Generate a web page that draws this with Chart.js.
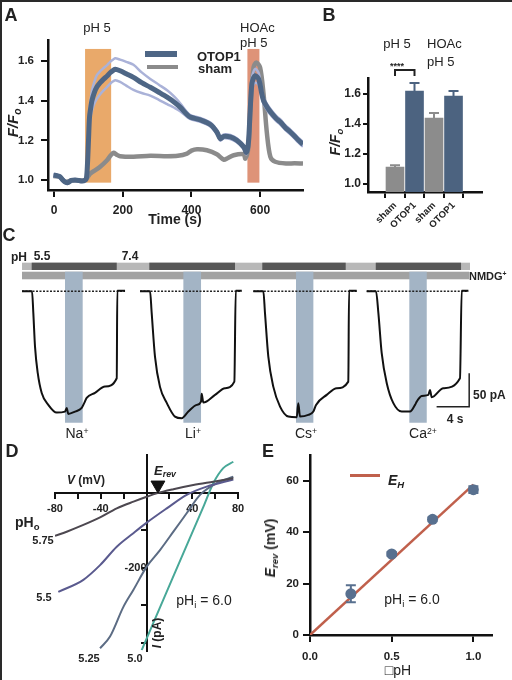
<!DOCTYPE html>
<html><head><meta charset="utf-8">
<script src="https://cdn.jsdelivr.net/npm/chart.js@4.4.1/dist/chart.umd.min.js"></script>
<style>
html,body{margin:0;padding:0;background:#fff;}
#fig{position:relative;width:512px;height:680px;overflow:hidden;font-family:'Liberation Sans',Arial,sans-serif;color:#222;background:#fff;}
#fig canvas{position:absolute;z-index:1;}
.t,.l{position:absolute;white-space:nowrap;line-height:1;z-index:2;}
.t{transform:translate(-50%,-50%);}
.l{transform:translate(0,-50%);}
.rot{transform:translate(-50%,-50%) rotate(-90deg);}
.b{font-weight:bold;}
.i{font-style:italic;}
sub{font-size:0.68em;vertical-align:-0.3em;line-height:0;}
sup{font-size:0.62em;vertical-align:0.5em;line-height:0;}
.frame{position:absolute;background:#2a2a2a;z-index:3;}
.sw{position:absolute;z-index:2;}
</style>
</head><body>
<div id="fig">
  <div class="frame" style="left:0;top:0;width:512px;height:2px"></div>
  <div class="frame" style="left:0;top:0;width:2px;height:680px"></div>

  <!-- Panel A -->
  <div class="t b" style="left:11px;top:15px;font-size:18px">A</div>
  <div class="t" style="left:97px;top:27px;font-size:13px">pH 5</div>
  <div class="l" style="left:240px;top:27px;font-size:13px">HOAc</div>
  <div class="l" style="left:240px;top:42px;font-size:13px">pH 5</div>
  <div class="sw" style="left:145px;top:51px;width:32px;height:6px;background:#4e6685"></div>
  <div class="sw" style="left:147px;top:65px;width:31px;height:4px;background:#8b8b8b"></div>
  <div class="l b" style="left:197px;top:56px;font-size:13px">OTOP1</div>
  <div class="l b" style="left:198px;top:68px;font-size:13px">sham</div>
  <div class="t rot b i" style="left:12px;top:123px;font-size:15px">F/F<sub>o</sub></div>
  <div class="t b" style="left:175px;top:219px;font-size:14px">Time (s)</div>

  <!-- Panel B -->
  <div class="t b" style="left:329px;top:15px;font-size:18px">B</div>
  <div class="t" style="left:397px;top:43px;font-size:13px">pH 5</div>
  <div class="l" style="left:427px;top:43px;font-size:13px">HOAc</div>
  <div class="l" style="left:427px;top:61px;font-size:13px">pH 5</div>
  <div class="t b" style="left:397px;top:66px;font-size:9px">****</div>
  <div class="t rot b i" style="left:335px;top:142px;font-size:14px">F/F<sub>o</sub></div>

  <!-- Panel C -->
  <div class="t b" style="left:9px;top:235px;font-size:18px">C</div>
  <div class="t b" style="left:19px;top:257px;font-size:12px">pH</div>
  <div class="t b" style="left:42px;top:256px;font-size:12px">5.5</div>
  <div class="t b" style="left:130px;top:256px;font-size:12px">7.4</div>
  <div class="l b" style="left:469px;top:276px;font-size:11px">NMDG<sup>+</sup></div>
  <div class="t" style="left:77px;top:433px;font-size:14px">Na<sup>+</sup></div>
  <div class="t" style="left:193px;top:433px;font-size:14px">Li<sup>+</sup></div>
  <div class="t" style="left:306px;top:433px;font-size:14px">Cs<sup>+</sup></div>
  <div class="t" style="left:423px;top:433px;font-size:14px">Ca<sup>2+</sup></div>
  <div class="l b" style="left:473px;top:395px;font-size:12px">50 pA</div>
  <div class="t b" style="left:455px;top:419px;font-size:12px">4 s</div>

  <!-- Panel D -->
  <div class="t b" style="left:12px;top:451px;font-size:18px">D</div>
  <div class="t b" style="left:86px;top:480px;font-size:12px"><span class="i">V</span> (mV)</div>
  <div class="l b" style="left:15px;top:522px;font-size:14px">pH<sub>o</sub></div>
  <div class="t b" style="left:43px;top:540px;font-size:11px">5.75</div>
  <div class="t b" style="left:44px;top:597px;font-size:11px">5.5</div>
  <div class="t b" style="left:89px;top:658px;font-size:11px">5.25</div>
  <div class="t b" style="left:135px;top:658px;font-size:11px">5.0</div>
  <div class="t b i" style="left:165px;top:470px;font-size:13px">E<sub>rev</sub></div>
  <div class="t" style="left:204px;top:600px;font-size:14px">pH<sub>i</sub> = 6.0</div>
  <div class="t rot b" style="left:157px;top:633px;font-size:12px"><span class="i">I</span> (pA)</div>

  <!-- Panel E -->
  <div class="t b" style="left:268px;top:451px;font-size:18px">E</div>
  <div class="sw" style="left:350px;top:474px;width:30px;height:3px;background:#c0604c"></div>
  <div class="l b i" style="left:388px;top:480px;font-size:14px">E<sub>H</sub></div>
  <div class="t rot b" style="left:270px;top:548px;font-size:14px"><span class="i">E<sub>rev</sub></span> (mV)</div>
  <div class="t" style="left:398px;top:670px;font-size:14px">&#9633;pH</div>
  <div class="t" style="left:412px;top:599px;font-size:14px">pH<sub>i</sub> = 6.0</div>
</div>

<script>
// ---------------- DATA ----------------
// Panel A : F/Fo time courses
const timeOtop = [-2,8,17,25,32,40,50,61,72,81,90,94,97,100,103,107,110,117,124,134,144,155,163,172,178,192,210,231,255,280,305,329,350,367,387,397,426,455,474,484,494,513,532,552,560,566,571,576,581,586,591,596,600,605,610,615,625,635,647,659,673,688,700,712,725];
const otopMean = [1.025,1.022,1.017,1.000,0.990,0.987,0.998,1.000,0.998,0.995,1.000,1.010,1.080,1.200,1.317,1.370,1.400,1.440,1.467,1.490,1.508,1.525,1.540,1.552,1.558,1.550,1.535,1.517,1.490,1.467,1.442,1.417,1.392,1.367,1.330,1.317,1.303,1.280,1.242,1.208,1.220,1.217,1.200,1.167,1.140,1.190,1.350,1.483,1.515,1.525,1.520,1.508,1.480,1.433,1.400,1.383,1.355,1.333,1.310,1.292,1.265,1.242,1.222,1.200,1.180];
const otopSem  = [0.006,0.006,0.006,0.006,0.006,0.006,0.005,0.005,0.005,0.005,0.005,0.008,0.015,0.025,0.035,0.045,0.050,0.055,0.060,0.058,0.056,0.055,0.055,0.055,0.055,0.056,0.060,0.063,0.052,0.042,0.038,0.035,0.028,0.020,0.012,0.010,0.010,0.010,0.010,0.010,0.010,0.010,0.010,0.010,0.010,0.015,0.025,0.030,0.032,0.035,0.033,0.030,0.025,0.020,0.018,0.016,0.015,0.014,0.013,0.013,0.012,0.012,0.012,0.012,0.012];
const timeSham = [-2,17,32,50,72,90,105,120,134,154,165,173,182,192,231,280,329,360,387,400,416,445,474,494,505,523,552,557,566,573,581,589,600,610,620,630,644,678,700,725];
const shamMean = [1.020,1.015,0.992,0.998,0.998,1.000,1.033,1.050,1.067,1.100,1.125,1.137,1.128,1.120,1.117,1.122,1.120,1.122,1.133,1.148,1.155,1.150,1.130,1.103,1.110,1.125,1.130,1.108,1.167,1.400,1.567,1.592,1.567,1.433,1.233,1.117,1.092,1.083,1.085,1.083];
const stimStartA = [90, 563];
const stimEndA   = [166, 598];
const stimColorA = ['#e9a96a', '#de9378'];
const xTicksA = [0, 200, 400, 600];
const yTicksA = [1.0, 1.2, 1.4, 1.6];

// Panel B : peak F/Fo
const catsB  = ['sham', 'OTOP1', 'sham', 'OTOP1'];
const valsB  = [1.113, 1.620, 1.440, 1.587];
const errB   = [0.012, 0.053, 0.033, 0.033];
const colorsB = ['#8c8c8c', '#4c6380', '#8c8c8c', '#4c6380'];
const yTicksB = [1.0, 1.2, 1.4, 1.6];

// Panel C : current traces (time s, current pA)
const naT = [0,1.23,1.39,1.60,1.93,2.42,3.23,4.26,5.28,5.49,5.68,6.51,7.33,7.65,7.94,8.96,10.19,11.63,11.70,12.65];
const naI = [0,0,-31.7,-81.4,-119.4,-148.7,-166.2,-177.5,-176.0,-170.6,-179.4,-176.0,-170.6,-163.3,-156.0,-148.7,-139.5,-127.2,0.5,0.5];
const liT = [14.49,15.72,15.92,16.33,16.94,17.77,18.78,19.61,20.42,21.45,21.98,22.06,22.26,23.70,24.92,26.07,26.24,26.98];
const liI = [0,0,-31.7,-96.1,-139.9,-163.3,-183.3,-185.7,-176.0,-166.2,-161.4,-150.1,-162.9,-151.6,-141.8,-132.2,0.5,0.5];
const csT = [28.40,29.63,29.83,30.24,30.85,31.68,32.70,33.73,33.92,34.13,35.15,35.77,36.10,37.41,38.64,40.06,40.15,41.09];
const csI = [0,0,-31.7,-95.6,-139.5,-168.7,-183.3,-184.2,-163.7,-183.3,-180.8,-176.0,-166.2,-151.6,-141.8,-132.2,0.5,0.5];
const caT = [42.32,43.46,43.75,44.16,44.78,45.59,46.62,47.64,48.25,48.46,49.07,49.88,50.09,50.30,51.73,53.77,53.98,54.80];
const caI = [0,0,-31.7,-90.6,-134.5,-163.7,-176.0,-176.0,-166.2,-161.4,-153.1,-151.6,-144.3,-155.0,-141.8,-127.2,0.5,0.5];
const baseStartC = [0, 14.49, 28.40, 42.32];
const baseEndC   = [12.65, 26.98, 41.09, 54.80];
const ionStartC  = [5.28, 19.81, 33.64, 47.55];
const ionEndC    = [7.45, 21.98, 35.77, 49.69];
const acidStartC = [1.19, 15.63, 29.50, 43.43];   // pH 5.5 segments
const acidEndC   = [11.63, 26.15, 39.74, 53.90];
const scaleBarT = [50.9, 54.9, 54.9];
const scaleBarI = [-169, -169, -120];

// Panel D : I-V curves (mV, pA)
const v575 = [-80,-69.8,-55.2,-40.6,-26,-11.4,0.2,8.9,23.5,40.9,58.4,75.9];
const i575 = [-115,-104,-86,-66,-42,-24,-11,-2,9,20,29,38];
const v55  = [-77.1,-55.2,-40.6,-26,-11.5,0.2,17.7,35.1,52.6,75.9];
const i55  = [-264,-232,-193,-144,-108,-80,-42,-6,16,35];
const v525 = [-40.6,-31.9,-20.2,-11.5,0.2,11.8,23.5,35.1,46.8,61.4,75.9];
const i525 = [-414,-383,-304,-259,-197,-153,-104,-55,-6,25,42];
const v50  = [-4.2,22.7,49.7,58.4,67.1,75.9];
const i50  = [-419,-228,-38,25,65,82];
const erevMarkV = [10];
const erevMarkI = [20];
const xTicksD = [-80,-60,-40,-20,0,20,40,60,80];
const xLabelsD = [-80,-40,40,80];
const yTicksD = [-400,-300,-200,-100,0];
const yLabelsD = [-200];

// Panel E : Erev vs dpH
const dpH  = [0.25, 0.5, 0.75, 1.0];
const erev = [16, 31.5, 45, 56.5];
const erevErr = [3.3, 0.8, 0.8, 1.3];
const ehX = [0, 1.0];
const ehY = [0, 58.5];
const xTicksE = [0, 0.5, 1.0];
const yTicksE = [0, 20, 40, 60];

// ---------------- HELPERS ----------------
Chart.defaults.font.family = "'Liberation Sans', Arial, sans-serif";
Chart.defaults.color = '#222';
const fig = document.getElementById('fig');
const pts = (xs, ys) => xs.map((x, i) => ({x: x, y: ys[i]}));

function mk(left, top, w, h, cfg) {
  const c = document.createElement('canvas');
  c.width = w; c.height = h;
  c.style.left = left + 'px'; c.style.top = top + 'px';
  c.style.width = w + 'px'; c.style.height = h + 'px';
  fig.insertBefore(c, fig.firstChild);
  cfg.options = Object.assign({responsive: false, animation: false, devicePixelRatio: 1, events: []}, cfg.options);
  cfg.options.plugins = Object.assign({legend: {display: false}, tooltip: {enabled: false}}, cfg.options.plugins || {});
  return new Chart(c, cfg);
}

function axis(o) {
  return {
    type: 'linear', min: o.min, max: o.max, position: o.position,
    afterBuildTicks: s => { s.ticks = o.ticks.map(v => ({value: v})); },
    afterFit: s => { if (o.isX) s.height = o.size; else s.width = o.size; },
    border: {display: true, color: '#111', width: o.bw || 2.5},
    grid: {drawOnChartArea: false, drawTicks: true, tickLength: o.tl || 6, color: '#111', lineWidth: o.tw || 2},
    ticks: {autoSkip: false, maxRotation: o.rot || 0, minRotation: o.rot || 0, padding: o.pad,
      color: '#222', font: {size: o.fs || 11, weight: 'bold'}, callback: v => o.fmt(v)}
  };
}

function rectPlugin(items) {
  return {
    id: 'rects',
    beforeDatasetsDraw(chart) {
      const xs = chart.scales.x, ys = chart.scales.y, ctx = chart.ctx;
      ctx.save();
      items.forEach(r => {
        const x0 = xs.getPixelForValue(r.x0), x1 = xs.getPixelForValue(r.x1);
        const y0 = ys.getPixelForValue(r.y0), y1 = ys.getPixelForValue(r.y1);
        ctx.fillStyle = r.color;
        ctx.fillRect(Math.min(x0, x1), Math.min(y0, y1), Math.abs(x1 - x0), Math.abs(y1 - y0));
      });
      ctx.restore();
    }
  };
}

function errPlugin(items) {
  return {
    id: 'errbars',
    afterDatasetsDraw(chart) {
      const xs = chart.scales.x, ys = chart.scales.y, ctx = chart.ctx;
      ctx.save();
      items.forEach(e => {
        const px = xs.getPixelForValue(e.x), lo = ys.getPixelForValue(e.lo), hi = ys.getPixelForValue(e.hi);
        ctx.strokeStyle = e.color; ctx.lineWidth = 2;
        ctx.beginPath();
        ctx.moveTo(px, lo); ctx.lineTo(px, hi);
        ctx.moveTo(px - e.cap, hi); ctx.lineTo(px + e.cap, hi);
        if (e.both) { ctx.moveTo(px - e.cap, lo); ctx.lineTo(px + e.cap, lo); }
        ctx.stroke();
      });
      ctx.restore();
    }
  };
}

function bracketPlugin(b) {
  return {
    id: 'bracket',
    afterDatasetsDraw(chart) {
      const xs = chart.scales.x, ys = chart.scales.y, ctx = chart.ctx;
      const x0 = xs.getPixelForValue(b.x0), x1 = xs.getPixelForValue(b.x1);
      const yt = ys.getPixelForValue(b.y), yb = ys.getPixelForValue(b.y - b.drop);
      ctx.save();
      ctx.strokeStyle = '#222'; ctx.lineWidth = 2;
      ctx.beginPath();
      ctx.moveTo(x0, yb); ctx.lineTo(x0, yt); ctx.lineTo(x1, yt); ctx.lineTo(x1, yb);
      ctx.stroke();
      ctx.restore();
    }
  };
}

// ---------------- PANEL A ----------------
const otopUpper = otopMean.map((v, i) => v + otopSem[i]);
const otopLower = otopMean.map((v, i) => v - otopSem[i]);
mk(0, 0, 320, 230, {
  type: 'line',
  data: {datasets: [
    {data: pts(timeOtop, otopMean), borderColor: '#4e6685', borderWidth: 5, pointRadius: 0, tension: 0.3},
    {data: pts(timeOtop, otopUpper), borderColor: '#aab2d8', borderWidth: 2.5, pointRadius: 0, tension: 0.3},
    {data: pts(timeOtop, otopLower), borderColor: '#aab2d8', borderWidth: 2.5, pointRadius: 0, tension: 0.3},
    {data: pts(timeSham, shamMean), borderColor: '#8b8b8b', borderWidth: 4.5, pointRadius: 0, tension: 0.3}
  ]},
  options: {
    layout: {padding: {left: 0, right: 17, top: 40, bottom: 0}},
    scales: {
      x: axis({min: -18, max: 725, ticks: xTicksA, fmt: v => String(v), isX: true, size: 40, pad: 6, tl: 7, fs: 12}),
      y: axis({min: 0.95, max: 1.705, ticks: yTicksA, fmt: v => v.toFixed(1), isX: false, size: 48, pad: 7, tl: 7, fs: 11.5})
    }
  },
  plugins: [rectPlugin(stimStartA.map((s, i) => ({x0: s, x1: stimEndA[i], y0: 0.987, y1: 1.66, color: stimColorA[i]})))]
});

// ---------------- PANEL B ----------------
mk(300, 0, 212, 230, {
  type: 'bar',
  data: {datasets: [{
    data: pts(catsB.map((c, i) => i), valsB),
    backgroundColor: colorsB, barThickness: 18, borderWidth: 0
  }]},
  options: {
    layout: {padding: {left: 0, right: 30, top: 78, bottom: 0}},
    scales: {
      x: axis({min: -0.654, max: 3.73, ticks: [0, 1, 2, 3], fmt: v => catsB[v], isX: true, size: 38, pad: 2, tl: 6, fs: 9.5, rot: 45}),
      y: axis({min: 0.947, max: 1.707, ticks: yTicksB, fmt: v => v.toFixed(1), isX: false, size: 68, pad: 2, tl: 5, fs: 12})
    }
  },
  plugins: [
    errPlugin(valsB.map((v, i) => ({x: i, lo: v, hi: v + errB[i], cap: 5, color: colorsB[i]}))),
    bracketPlugin({x0: 0, x1: 1, y: 1.76, drop: 0.04})
  ]
});

// ---------------- PANEL C ----------------
const traceStyle = {borderColor: '#111', borderWidth: 2, pointRadius: 0, cubicInterpolationMode: 'monotone'};
const baseSets = baseStartC.map((s, i) => ({
  data: pts([s, baseEndC[i]], [0, 0]), borderColor: '#222', borderWidth: 1.5, borderDash: [2, 1.5], pointRadius: 0
}));
const rectsC = [
  {x0: 0, x1: 55, y0: 41.7, y1: 31.0, color: '#b8b8b8'},
  ...acidStartC.map((s, i) => ({x0: s, x1: acidEndC[i], y0: 41.7, y1: 31.0, color: '#575757'})),
  {x0: 0, x1: 54.9, y0: 28.5, y1: 17.4, color: '#a2a2a2'},
  ...ionStartC.map((s, i) => ({x0: s, x1: ionEndC[i], y0: 28.5, y1: -192.3, color: '#a3b4c5'}))
];
mk(22, 257, 448, 171, {
  type: 'line',
  data: {datasets: [
    Object.assign({data: pts(naT, naI)}, traceStyle),
    Object.assign({data: pts(liT, liI)}, traceStyle),
    Object.assign({data: pts(csT, csI)}, traceStyle),
    Object.assign({data: pts(caT, caI)}, traceStyle),
    ...baseSets,
    {data: pts(scaleBarT, scaleBarI), borderColor: '#222', borderWidth: 1.5, pointRadius: 0}
  ]},
  options: {
    layout: {padding: 0},
    scales: {
      x: {type: 'linear', display: false, min: 0, max: 55},
      y: {type: 'linear', display: false, min: -200, max: 50}
    }
  },
  plugins: [rectPlugin(rectsC)]
});

// ---------------- PANEL D ----------------
const curveStyle = (c) => ({borderColor: c, borderWidth: 2, pointRadius: 0, cubicInterpolationMode: 'monotone'});
mk(0, 440, 260, 240, {
  type: 'line',
  data: {datasets: [
    {data: pts(erevMarkV, erevMarkI), showLine: false, pointStyle: 'triangle', rotation: 180, pointRadius: 8,
     backgroundColor: '#111', borderColor: '#111', borderWidth: 1},
    Object.assign({data: pts(v575, i575)}, curveStyle('#4d4850')),
    Object.assign({data: pts(v55, i55)}, curveStyle('#5a5a8e')),
    Object.assign({data: pts(v525, i525)}, curveStyle('#5c6c84')),
    Object.assign({data: pts(v50, i50)}, curveStyle('#48a898'))
  ]},
  options: {
    layout: {padding: {left: 55, right: 22, top: 15, bottom: 29.5}},
    scales: {
      x: axis({min: -80, max: 80, position: {y: 0}, ticks: xTicksD, fmt: v => xLabelsD.includes(v) ? String(v) : '',
               isX: true, size: 0, pad: 5, tl: 5, fs: 11, bw: 2}),
      y: axis({min: -420, max: 100, position: {x: 0}, ticks: yTicksD, fmt: v => yLabelsD.includes(v) ? String(v) : '',
               isX: false, size: 0, pad: 2, tl: 5, fs: 11, bw: 2})
    }
  }
});

// ---------------- PANEL E ----------------
mk(260, 440, 252, 240, {
  type: 'line',
  data: {datasets: [
    {data: pts(dpH, erev), showLine: false, pointRadius: 5.5, pointBackgroundColor: '#58708f', pointBorderColor: '#58708f', pointBorderWidth: 0},
    {data: pts(ehX, ehY), borderColor: '#c0604c', borderWidth: 2.5, pointRadius: 0}
  ]},
  options: {
    layout: {padding: {left: 0, right: 20, top: 15, bottom: 0}},
    scales: {
      x: axis({min: 0, max: 1.114, ticks: xTicksE, fmt: v => v.toFixed(1), isX: true, size: 45, pad: 8, tl: 7, fs: 11.5}),
      y: axis({min: 0, max: 70, ticks: yTicksE, fmt: v => String(v), isX: false, size: 50, pad: 4, tl: 7, fs: 11.5})
    }
  },
  plugins: [errPlugin(dpH.map((x, i) => ({x: x, lo: erev[i] - erevErr[i], hi: erev[i] + erevErr[i], cap: 5, both: true, color: '#58708f'})))]
});
</script>
</body></html>
